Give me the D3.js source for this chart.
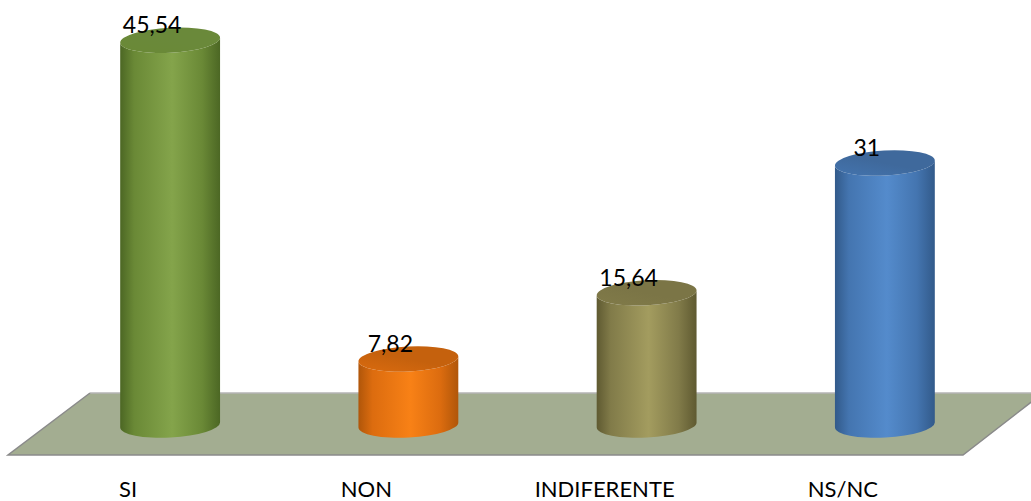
<!DOCTYPE html>
<html>
<head>
<meta charset="utf-8">
<script src="https://cdn.jsdelivr.net/npm/d3@7"></script>
<style>
  html, body { margin: 0; padding: 0; background: #ffffff; }
  svg { display: block; }
  text { font-family: Lato, "Open Sans", sans-serif; }
</style>
</head>
<body>
<svg id="chart" width="1031" height="501"></svg>
<script>
// Survey answers and their percentages
const categories = ["SI", "NON", "INDIFERENTE", "NS/NC"];
const values = [45.54, 7.82, 15.64, 31];
const valueLabels = ["45,54", "7,82", "15,64", "31"];

// Cylinder palettes: dark edge, mid tone, highlight, top face
const palettes = [
  { dark: "#4c6724", mid: "#6a8936", light: "#84a44b", top: "#6a893a" },
  { dark: "#b0560a", mid: "#dc6c0f", light: "#f88116", top: "#c5610d" },
  { dark: "#5f5a31", mid: "#817b49", light: "#a39c5f", top: "#7b7546" },
  { dark: "#325a8a", mid: "#4475b0", light: "#548bcc", top: "#3f699c" }
];

const W = 1031, H = 501;
const svg = d3.select("#chart");
const defs = svg.append("defs");

const x = d3.scaleBand().domain(categories).range([51, 1004]).paddingInner(0).paddingOuter(0);
const y = d3.scaleLinear().domain([0, 50]).range([425, 2.5]);

const rx = 50, ry = 12.5, tilt = -3;
const rad = tilt * Math.PI / 180;
const dx = rx * Math.cos(rad), dy = rx * Math.sin(rad);

// Floor plane
const floor = [[90, 393], [1043, 393], [963, 455], [8, 455]];
svg.append("path")
  .attr("d", "M" + floor.map(p => p.join(",")).join("L") + "Z")
  .attr("fill", "#a3ad91")
  .attr("stroke", "none");
svg.append("path")
  .attr("d", `M${floor[0]}L${floor[1]}`)
  .attr("stroke", "#b4b4b4").attr("stroke-width", 1.5).attr("fill", "none");
svg.append("path")
  .attr("d", `M${floor[1]}L${floor[2]}L${floor[3]}L${floor[0]}`)
  .attr("stroke", "#8a8a8a").attr("stroke-width", 1.5).attr("fill", "none");

// Gradients for cylinder bodies and tops
palettes.forEach((p, i) => {
  const g = defs.append("linearGradient").attr("id", "body" + i)
    .attr("x1", "0%").attr("x2", "100%").attr("y1", "0%").attr("y2", "0%");
  [[0, p.dark], [0.14, p.mid], [0.52, p.light], [0.82, p.mid], [1, p.dark]]
    .forEach(([o, c]) => g.append("stop").attr("offset", o).attr("stop-color", c));
  const t = defs.append("linearGradient").attr("id", "top" + i)
    .attr("x1", "0%").attr("x2", "100%").attr("y1", "100%").attr("y2", "0%");
  t.append("stop").attr("offset", 0).attr("stop-color", p.mid);
  t.append("stop").attr("offset", 0.5).attr("stop-color", p.top);
  t.append("stop").attr("offset", 1).attr("stop-color", p.top);
});

const data = categories.map((c, i) => ({ c, v: values[i], label: valueLabels[i], i }));

const cyl = svg.selectAll("g.cyl").data(data).join("g").attr("class", "cyl");

cyl.append("path")
  .attr("d", d => {
    const cx = x(d.c) + x.bandwidth() / 2;
    const yt = y(d.v), yb = y(0);
    return `M${cx - dx},${yt - dy} L${cx - dx},${yb - dy} ` +
      `A${rx},${ry} ${tilt} 0 0 ${cx + dx},${yb + dy} ` +
      `L${cx + dx},${yt + dy} A${rx},${ry} ${tilt} 0 1 ${cx - dx},${yt - dy} Z`;
  })
  .attr("fill", d => `url(#body${d.i})`);

cyl.append("ellipse")
  .attr("cx", d => x(d.c) + x.bandwidth() / 2)
  .attr("cy", d => y(d.v))
  .attr("rx", rx).attr("ry", ry)
  .attr("transform", d => `rotate(${tilt},${x(d.c) + x.bandwidth() / 2},${y(d.v)})`)
  .attr("fill", d => `url(#top${d.i})`);

// Value labels above each cylinder
svg.selectAll("text.val").data(data).join("text")
  .attr("class", "val")
  .attr("x", d => x(d.c) + x.bandwidth() / 2 - 18)
  .attr("y", d => y(d.v) - 7)
  .attr("text-anchor", "middle")
  .attr("font-size", 23)
  .attr("fill", "#000")
  .text(d => d.label);

// Category labels along the front edge of the floor
svg.selectAll("text.cat").data(data).join("text")
  .attr("class", "cat")
  .attr("x", d => x(d.c) + x.bandwidth() / 2 - 42)
  .attr("y", 497)
  .attr("text-anchor", "middle")
  .attr("font-size", 22)
  .attr("fill", "#000")
  .text(d => d.c);
</script>
</body>
</html>
